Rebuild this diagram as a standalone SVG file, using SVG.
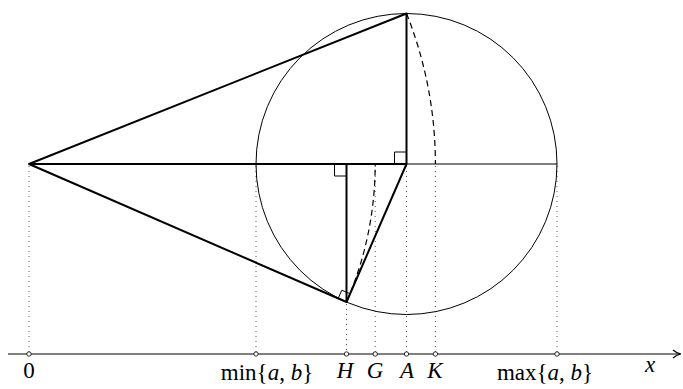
<svg xmlns="http://www.w3.org/2000/svg" width="683" height="389" viewBox="0 0 683 389">
<style>
.thin{stroke:#000;stroke-width:1;fill:none}
.thick{stroke:#000;stroke-width:2;fill:none;stroke-linejoin:round}
.dot{stroke:#555;stroke-width:1;stroke-dasharray:1 4;fill:none}
.dash{stroke:#000;stroke-width:1.2;stroke-dasharray:6 4;fill:none}
.pt{fill:#fff;stroke:#000;stroke-width:0.8}
.lbl{font-family:"Liberation Serif","DejaVu Serif",serif;font-size:23px;fill:#000;text-anchor:middle}
.it{font-style:italic}
</style>
<defs>
<marker id="arr" viewBox="0 0 10 10" refX="8" refY="5" markerWidth="10" markerHeight="10" markerUnits="userSpaceOnUse" orient="auto">
<path d="M1,1 Q5,4.5 9,5 Q5,5.5 1,9" fill="none" stroke="#000" stroke-width="1.2"/>
</marker>
</defs>
<g id="guides">
<line class="dot" x1="29" y1="166" x2="29" y2="354"/>
<line class="dot" x1="256" y1="166" x2="256" y2="354"/>
<line class="dot" x1="346.5" y1="304" x2="346.5" y2="354"/>
<line class="dot" x1="375.2" y1="166" x2="375.2" y2="354"/>
<line class="dot" x1="406.5" y1="166" x2="406.5" y2="354"/>
<line class="dot" x1="435.4" y1="166" x2="435.4" y2="354"/>
<line class="dot" x1="557" y1="166" x2="557" y2="354"/>
</g>
<g id="circle">
<circle class="thin" cx="406.5" cy="164" r="150.5"/>
<line class="thin" x1="406.5" y1="164" x2="557" y2="164"/>
</g>
<g id="connectors">
<path class="dash" d="M406.5 13.5 A406.4 406.4 0 0 1 435.4 164"/>
<path class="dash" d="M346.5 302 A346.2 346.2 0 0 0 375.2 164"/>
<path class="thick" d="M406.5 164 L406.5 13.5 L29 164 L406.5 164 L346.5 302 L29 164"/>
<line class="thick" x1="346.5" y1="164" x2="346.5" y2="302"/>
<path class="thin" d="M394.5 164 V152 H406.5"/>
<path class="thin" d="M334.5 164 V176 H346.5"/>
<path class="thin" d="M338.2 298.4 L341.8 290.2 L350.1 293.7"/>
</g>
<g id="axis">
<line class="thin" x1="8" y1="354" x2="680" y2="354" marker-end="url(#arr)"/>
<circle class="pt" cx="29" cy="354" r="2.2"/>
<circle class="pt" cx="256" cy="354" r="2.2"/>
<circle class="pt" cx="346.5" cy="354" r="2.2"/>
<circle class="pt" cx="375.2" cy="354" r="2.2"/>
<circle class="pt" cx="406.5" cy="354" r="2.2"/>
<circle class="pt" cx="435.4" cy="354" r="2.2"/>
<circle class="pt" cx="557" cy="354" r="2.2"/>
</g>
<g id="labels">
<text class="lbl" x="29" y="378">0</text>
<text class="lbl" x="267" y="380">min{<tspan class="it">a</tspan>, <tspan class="it">b</tspan>}</text>
<text class="lbl it" x="345" y="378">H</text>
<text class="lbl it" x="375" y="378">G</text>
<text class="lbl it" x="407" y="378">A</text>
<text class="lbl it" x="435" y="378">K</text>
<text class="lbl" x="545" y="380">max{<tspan class="it">a</tspan>, <tspan class="it">b</tspan>}</text>
<text class="lbl it" x="650" y="372">x</text>
</g>
</svg>
